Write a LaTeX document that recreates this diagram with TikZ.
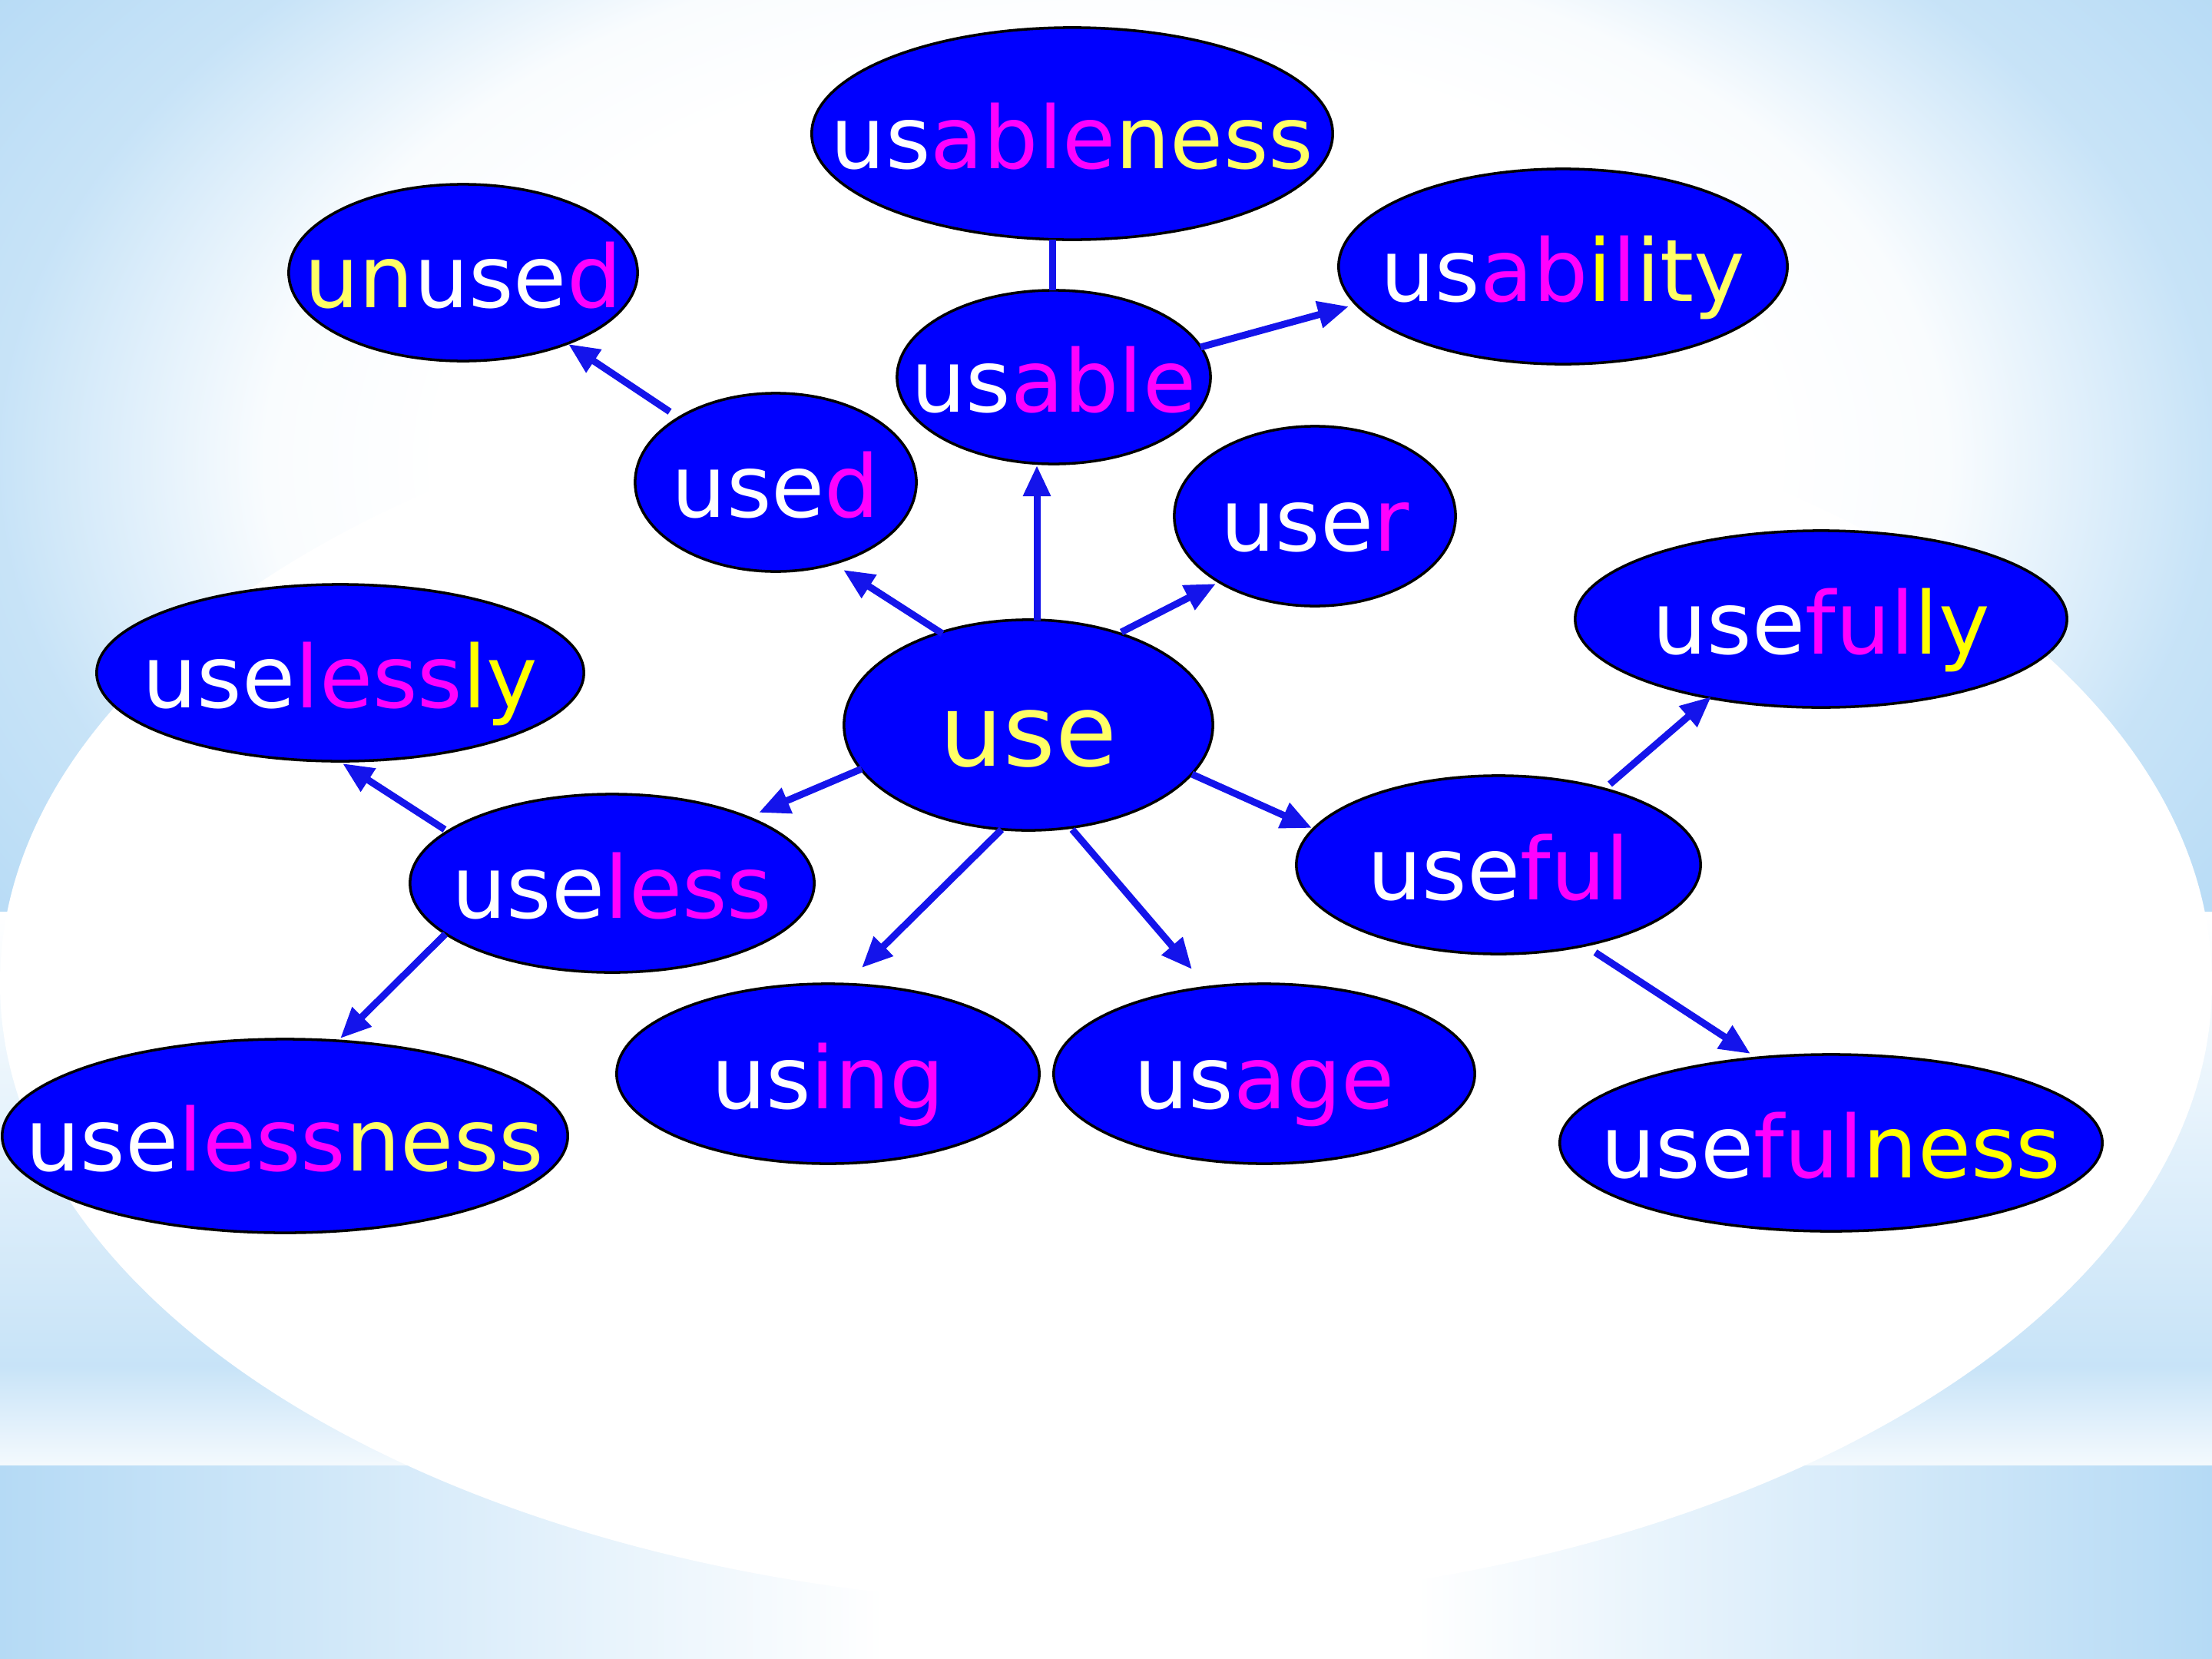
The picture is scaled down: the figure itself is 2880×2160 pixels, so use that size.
\documentclass[tikz,border=0pt]{standalone}
\usepackage{fontspec}
\setmainfont{DejaVu Sans}
\usetikzlibrary{arrows.meta,calc,shapes.geometric}

\definecolor{bgblue}{RGB}{181,218,245}
\definecolor{nodeblue}{RGB}{0,0,255}
\definecolor{linkblue}{RGB}{20,20,235}
\definecolor{mag}{RGB}{255,0,255}
\definecolor{yel}{RGB}{255,255,0}
\definecolor{pyel}{RGB}{255,255,102}

\pgfdeclareradialshading{topglow}{\pgfpoint{0bp}{0bp}}{color(0bp)=(white); color(15bp)=(white); color(19bp)=(white!92!bgblue); color(25bp)=(bgblue!75!white); color(31bp)=(bgblue); color(50bp)=(bgblue)}
\pgfdeclarehorizontalshading{bottomsides}{100bp}{color(0bp)=(bgblue); color(25bp)=(bgblue); color(45bp)=(white); color(57bp)=(white); color(75bp)=(bgblue); color(100bp)=(bgblue)}
\pgfdeclareverticalshading{midband}{100bp}{color(0bp)=(white!85!bgblue); color(25bp)=(white!85!bgblue); color(34bp)=(white!25!bgblue); color(75bp)=(white); color(100bp)=(white)}

\newcommand\wh[1]{\textcolor{white}{#1}}
\newcommand\mg[1]{\textcolor{mag}{#1}}
\newcommand\yl[1]{\textcolor{yel}{#1}}
\newcommand\py[1]{\textcolor{pyel}{#1}}
\newcommand\wtext[1]{\makebox[0pt]{\raisebox{-0.45cm}[0pt][0pt]{#1}}}

\tikzset{
  word/.style={ellipse, fill=nodeblue, draw=black, line width=1pt, inner sep=0pt,
    font=\fontsize{32pt}{38pt}\selectfont},
  arr/.style={draw=linkblue, line width=0.09cm, -{Triangle[length=0.40cm,width=0.34cm]}},
  link/.style={draw=linkblue, line width=0.09cm},
}

\begin{document}
\begin{tikzpicture}[x=0.01cm, y=-0.01cm]
\useasboundingbox (0,0) rectangle (2880,2160);
% background
\begin{scope}
  \clip (0,0) rectangle (2880,1187);
  \shade[shading=topglow] (0,-300) rectangle (2880,1500);
\end{scope}
\shade[shading=midband] (0,1187) rectangle (2880,1908);
\shade[shading=bottomsides] (0,1908) rectangle (2880,2160);
\fill[white] (1440,1280) ellipse [x radius=1440, y radius=810];

% nodes
\node[word, minimum width=6.78cm, minimum height=2.76cm] (usableness) at (1396,174) {\wtext{\wh{us}\mg{able}\py{ness}}};
\node[word, minimum width=4.54cm, minimum height=2.30cm] (unused) at (603,355) {\wtext{\py{un}\wh{use}\mg{d}}};
\node[word, minimum width=5.84cm, minimum height=2.54cm] (usability) at (2035,347) {\wtext{\wh{us}\mg{ab}\yl{i}\mg{l}\py{ity}}};
\node[word, minimum width=4.08cm, minimum height=2.26cm] (usable) at (1372,491) {\wtext{\wh{us}\mg{able}}};
\node[word, minimum width=3.66cm, minimum height=2.32cm] (used) at (1010,628) {\wtext{\wh{use}\mg{d}}};
\node[word, minimum width=3.66cm, minimum height=2.34cm] (user) at (1712,672) {\wtext{\wh{use}\mg{r}}};
\node[word, minimum width=6.40cm, minimum height=2.30cm] (usefully) at (2371,806) {\wtext{\wh{use}\mg{ful}\yl{ly}}};
\node[word, minimum width=6.34cm, minimum height=2.30cm] (uselessly) at (443,876) {\wtext{\wh{use}\mg{less}\yl{ly}}};
\node[word, minimum width=4.80cm, minimum height=2.74cm, font=\fontsize{37pt}{44pt}\selectfont] (use) at (1339,944) {\makebox[0pt]{\raisebox{-0.53cm}[0pt][0pt]{\py{use}}}};
\node[word, minimum width=5.26cm, minimum height=2.32cm] (useless) at (797,1150) {\wtext{\wh{use}\mg{less}}};
\node[word, minimum width=5.26cm, minimum height=2.32cm] (useful) at (1951,1126) {\wtext{\wh{use}\mg{ful}}};
\node[word, minimum width=5.50cm, minimum height=2.34cm] (using) at (1078,1398) {\wtext{\wh{us}\mg{ing}}};
\node[word, minimum width=5.48cm, minimum height=2.34cm] (usage) at (1646,1398) {\wtext{\wh{us}\mg{age}}};
\node[word, minimum width=7.36cm, minimum height=2.52cm] (uselessness) at (371,1479) {\wtext{\wh{use}\mg{less}\py{ness}}};
\node[word, minimum width=7.06cm, minimum height=2.30cm] (usefulness) at (2384,1488) {\wtext{\wh{use}\mg{ful}\yl{ness}}};

% connectors
\draw[arr] ($(use)+(-112,-119)$) -- ($(used)+(88,114)$);
\draw[arr] ($(use)+(11,-136)$) -- ($(usable)+(-22,115)$);
\draw[arr] ($(use)+(121,-121)$) -- ($(user)+(-129,88)$);
\draw[arr] ($(use)+(-217,57)$) -- ($(useless)+(191,-92)$);
\draw[arr] ($(use)+(-35,136)$) -- ($(using)+(44,-138)$);
\draw[arr] ($(use)+(57,136)$) -- ($(usage)+(-94,-136)$);
\draw[arr] ($(use)+(213,64)$) -- ($(useful)+(-243,-48)$);
\draw[arr] ($(used)+(-138,-92)$) -- ($(unused)+(137,93)$);
\draw[link] ($(usable)+(-2,-113)$) -- ($(usableness)+(-26,138)$);
\draw[arr] ($(usable)+(191,-39)$) -- ($(usability)+(-279,52)$);
\draw[arr] ($(useless)+(-218,-70)$) -- ($(uselessly)+(3,118)$);
\draw[arr] ($(useless)+(-217,66)$) -- ($(uselessness)+(72,-127)$);
\draw[arr] ($(useful)+(145,-105)$) -- ($(usefully)+(-143,101)$);
\draw[arr] ($(useful)+(126,114)$) -- ($(usefulness)+(-105,-116)$);
\end{tikzpicture}
\end{document}
